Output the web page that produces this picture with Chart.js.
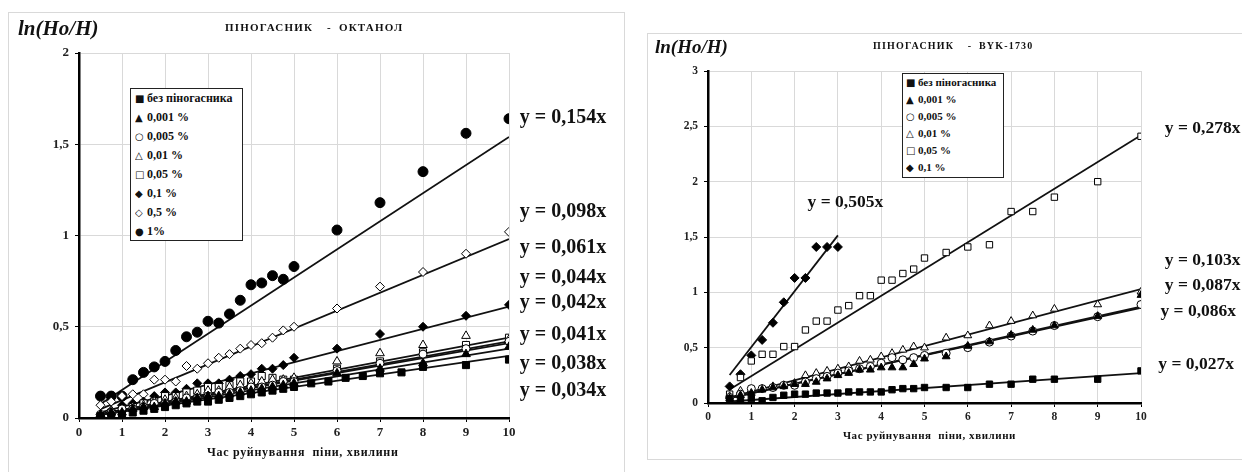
<!DOCTYPE html>
<html>
<head>
<meta charset="utf-8">
<script src="https://cdn.jsdelivr.net/npm/chart.js@4"></script>
<style>
  body { margin: 0; width: 1242px; height: 472px; overflow: hidden; background: #fff; font-family: "Liberation Serif", serif; position: relative; }
  .frame { position: absolute; border: 1px solid #d9d9d9; }
  canvas { position: absolute; }
  .txt { position: absolute; font-weight: bold; color: #111; white-space: nowrap; }
  .ylab { font-style: italic; }
  .legend { position: absolute; border: 1px solid #222; background: #fff; font-weight: bold; color: #111; box-sizing: border-box; }
  .legend div { white-space: nowrap; overflow: hidden; }
  .legend span { display: inline-block; width: 12px; font-family: "DejaVu Sans", sans-serif; font-weight: normal; font-size: 10px; vertical-align: top; }
</style>
</head>
<body>
<div class="frame" style="left:8px; top:12px; width:615px; height:480px;"></div>
<div class="frame" style="left:647px; top:33px; width:620px; height:425px;"></div>
<canvas id="left" width="615" height="460" style="left:8px; top:12px;"></canvas>
<canvas id="right" width="595" height="425" style="left:647px; top:33px;"></canvas>

<div class="txt ylab" style="left:18px; top:16px; font-size:21px;">ln(Ho/H)</div>
<div class="txt" style="left:225px; top:21px; font-size:11px; letter-spacing:1.2px; word-spacing:3px;">ПІНОГАСНИК &nbsp;- ОКТАНОЛ</div>
<div class="txt" style="left:207px; top:445px; font-size:12px; letter-spacing:0.7px;">Час руйнування &nbsp;піни, хвилини</div>
<div class="legend" id="legLeft" style="left:130px; top:88px; width:113px; height:153px; font-size:12px; padding-left:4px; padding-top:0px;"></div>

<div class="txt ylab" style="left:655px; top:36px; font-size:19px;">ln(Ho/H)</div>
<div class="txt" style="left:873px; top:40px; font-size:10px; letter-spacing:1.2px; word-spacing:3px;">ПІНОГАСНИК &nbsp;- BYK-1730</div>
<div class="txt" style="left:843px; top:429px; font-size:11px; letter-spacing:0.55px;">Час руйнування &nbsp;піни, хвилини</div>
<div class="legend" id="legRight" style="left:902px; top:73px; width:102px; height:105px; font-size:11px; padding-left:3px; padding-top:0px;"></div>

<script>
// ---- left chart: піногасник октанол ----
const xLeft = [0.5, 0.75, 1, 1.25, 1.5, 1.75, 2, 2.25, 2.5, 2.75, 3, 3.25, 3.5, 3.75, 4, 4.25, 4.5, 4.75, 5, 6, 7, 8, 9, 10];
const xLeftNone = [0.5, 0.75, 1, 1.25, 1.5, 1.75, 2, 2.25, 2.5, 2.75, 3, 3.25, 3.5, 3.75, 4, 4.25, 4.5, 4.75, 5, 5.4, 5.8, 6.2, 6.6, 7, 7.5, 8, 9, 10];
const leftNone = [0.01, 0.01, 0.02, 0.03, 0.04, 0.05, 0.06, 0.07, 0.08, 0.09, 0.09, 0.10, 0.11, 0.12, 0.13, 0.14, 0.15, 0.16, 0.17, 0.19, 0.20, 0.22, 0.23, 0.245, 0.25, 0.28, 0.29, 0.32];
const left0001 = [0.02, 0.03, 0.03, 0.05, 0.06, 0.06, 0.08, 0.09, 0.09, 0.11, 0.12, 0.12, 0.13, 0.14, 0.15, 0.16, 0.17, 0.18, 0.19, 0.245, 0.27, 0.30, 0.35, 0.39];
const left0005 = [0.02, 0.03, 0.05, 0.05, 0.06, 0.08, 0.08, 0.09, 0.11, 0.11, 0.12, 0.14, 0.14, 0.15, 0.17, 0.17, 0.18, 0.20, 0.20, 0.26, 0.30, 0.35, 0.38, 0.42];
const left001 = [0.02, 0.04, 0.05, 0.06, 0.07, 0.09, 0.10, 0.11, 0.12, 0.13, 0.15, 0.15, 0.17, 0.18, 0.19, 0.20, 0.21, 0.21, 0.22, 0.31, 0.355, 0.40, 0.45, 0.43];
const left005 = [0.01, 0.03, 0.05, 0.06, 0.08, 0.09, 0.12, 0.12, 0.14, 0.15, 0.17, 0.17, 0.18, 0.20, 0.20, 0.23, 0.22, 0.21, 0.21, 0.27, 0.31, 0.36, 0.40, 0.44];
const left01 = [0.02, 0.04, 0.07, 0.08, 0.09, 0.12, 0.14, 0.14, 0.16, 0.19, 0.19, 0.19, 0.21, 0.23, 0.24, 0.27, 0.27, 0.29, 0.33, 0.38, 0.46, 0.50, 0.56, 0.62];
const left05 = [0.07, 0.09, 0.12, 0.13, 0.13, 0.21, 0.21, 0.20, 0.285, 0.27, 0.30, 0.33, 0.35, 0.38, 0.40, 0.41, 0.44, 0.48, 0.50, 0.60, 0.72, 0.80, 0.90, 1.02];
const left1 = [0.12, 0.12, 0.12, 0.21, 0.25, 0.28, 0.31, 0.37, 0.445, 0.47, 0.53, 0.52, 0.57, 0.645, 0.73, 0.74, 0.78, 0.76, 0.83, 1.03, 1.18, 1.35, 1.56, 1.64];
const leftLabels = ["без піногасника", "0,001 %", "0,005 %", "0,01 %", "0,05 %", "0,1 %", "0,5 %", "1%"];
const leftSlopes = [0.034, 0.038, 0.041, 0.044, 0.042, 0.061, 0.098, 0.154];
const leftEquations = ["y = 0,154x", "y = 0,098x", "y = 0,061x", "y = 0,044x", "y = 0,042x", "y = 0,041x", "y = 0,038x", "y = 0,034x"];

// ---- right chart: піногасник BYK-1730 ----
const xRight = [0.5, 0.75, 1, 1.25, 1.5, 1.75, 2, 2.25, 2.5, 2.75, 3, 3.25, 3.5, 3.75, 4, 4.25, 4.5, 4.75, 5, 5.5, 6, 6.5, 7, 7.5, 8, 9, 10];
const xRight01 = [0.5, 0.75, 1, 1.25, 1.5, 1.75, 2, 2.25, 2.5, 2.75, 3];
const rightNone = [0.04, 0.02, 0.04, 0.02, 0.05, 0.07, 0.08, 0.08, 0.09, 0.09, 0.09, 0.10, 0.10, 0.10, 0.10, 0.12, 0.13, 0.13, 0.14, 0.14, 0.14, 0.17, 0.17, 0.215, 0.215, 0.215, 0.29];
const right0001 = [0.04, 0.07, 0.09, 0.12, 0.14, 0.15, 0.17, 0.17, 0.19, 0.22, 0.25, 0.27, 0.30, 0.30, 0.32, 0.32, 0.32, 0.35, 0.40, 0.42, 0.515, 0.555, 0.615, 0.66, 0.70, 0.785, 0.975];
const right0005 = [0.05, 0.08, 0.13, 0.13, 0.14, 0.16, 0.16, 0.19, 0.22, 0.24, 0.27, 0.29, 0.31, 0.33, 0.36, 0.41, 0.39, 0.41, 0.43, 0.45, 0.50, 0.55, 0.605, 0.65, 0.70, 0.78, 0.89];
const right001 = [0.06, 0.11, 0.12, 0.13, 0.15, 0.16, 0.18, 0.25, 0.27, 0.29, 0.31, 0.33, 0.38, 0.39, 0.42, 0.45, 0.48, 0.51, 0.50, 0.59, 0.61, 0.70, 0.74, 0.79, 0.85, 0.89, 1.005];
const right005 = [0.08, 0.23, 0.38, 0.44, 0.44, 0.51, 0.51, 0.66, 0.74, 0.74, 0.84, 0.88, 0.97, 0.97, 1.11, 1.11, 1.17, 1.21, 1.31, 1.36, 1.41, 1.43, 1.73, 1.73, 1.86, 2.0, 2.41];
const right01 = [0.15, 0.26, 0.43, 0.57, 0.725, 0.91, 1.13, 1.13, 1.41, 1.41, 1.41];
const rightLabels = ["без піногасника", "0,001 %", "0,005 %", "0,01 %", "0,05 %", "0,1 %"];
// slopes of the lines as drawn in the picture (the 0,05 % line sits below its label value)
const rightSlopes = [0.027, 0.087, 0.086, 0.103, 0.242, 0.505];
const rightEquations = ["y = 0,505x", "y = 0,278x", "y = 0,103x", "y = 0,087x", "y = 0,086x", "y = 0,027x"];

// marker look for each legend entry (same order as the labels)
const markers = [
  { style: "rect", fill: true, glyph: "■" },
  { style: "triangle", fill: true, glyph: "▲" },
  { style: "circle", fill: false, glyph: "○" },
  { style: "triangle", fill: false, glyph: "△" },
  { style: "rect", fill: false, glyph: "□" },
  { style: "rectRot", fill: true, glyph: "◆" },
  { style: "rectRot", fill: false, glyph: "◇" },
  { style: "circle", fill: true, glyph: "●" },
];

function points(xs, ys) {
  return xs.map((x, i) => ({ x: x, y: ys[i] }));
}

function scatterSet(label, xs, ys, m, radius) {
  return {
    label: label,
    data: points(xs, ys),
    showLine: false,
    pointStyle: m.style,
    pointRadius: radius,
    pointBackgroundColor: m.fill ? "#000" : "#fff",
    pointBorderColor: "#000",
    pointBorderWidth: 1,
  };
}

function trendSet(k, x0, x1, width) {
  return {
    label: "trend",
    data: [{ x: x0, y: k * x0 }, { x: x1, y: k * x1 }],
    showLine: true,
    borderColor: "#111",
    borderWidth: width,
    pointRadius: 0,
  };
}

function fillLegend(id, labels, rowH) {
  const box = document.getElementById(id);
  labels.forEach((l, i) => {
    const row = document.createElement("div");
    row.style.height = rowH + "px";
    row.style.lineHeight = rowH + "px";
    row.innerHTML = "<span>" + markers[i].glyph + "</span>" + l;
    box.appendChild(row);
  });
}
fillLegend("legLeft", leftLabels, 19);
fillLegend("legRight", rightLabels, 17);

// equation labels drawn next to the plot
const equationPlugin = {
  id: "equations",
  afterDraw(chart, args, opts) {
    const ctx = chart.ctx;
    const xs = chart.scales.x, ys = chart.scales.y;
    ctx.save();
    ctx.fillStyle = "#111";
    ctx.font = "bold " + opts.size + "px 'Liberation Serif'";
    ctx.textBaseline = "middle";
    opts.items.forEach((it, i) => {
      ctx.fillText(opts.texts[i], xs.getPixelForValue(it[0]), ys.getPixelForValue(it[1]));
    });
    ctx.restore();
  }
};

const commaTick = (v) => String(v).replace(".", ",");

function baseOptions(ymax, yWidth, pad, tickSize) {
  return {
    responsive: false,
    animation: false,
    devicePixelRatio: 1,
    layout: { padding: pad },
    plugins: { legend: { display: false }, tooltip: { enabled: false } },
    scales: {
      x: {
        type: "linear", min: 0, max: 10,
        ticks: { stepSize: 1, color: "#222", font: { family: "Liberation Serif", weight: "bold", size: tickSize }, padding: 3, callback: commaTick },
        grid: { color: "#d9d9d9", tickColor: "#000", tickLength: 4 },
        border: { color: "#000", width: 2.5 },
        afterFit: (a) => { a.height = 30; },
      },
      y: {
        min: 0, max: ymax,
        ticks: { stepSize: 0.5, color: "#222", font: { family: "Liberation Serif", weight: "bold", size: tickSize }, padding: 6, callback: commaTick },
        grid: { color: "#d9d9d9", tickColor: "#000", tickLength: 4 },
        border: { color: "#000", width: 2.5 },
        afterFit: (a) => { a.width = yWidth; },
      },
    },
  };
}

// left chart
const leftSeries = [
  [xLeftNone, leftNone], [xLeft, left0001], [xLeft, left0005], [xLeft, left001],
  [xLeft, left005], [xLeft, left01], [xLeft, left05], [xLeft, left1],
];
const leftRadius = [5, 5, 4, 5, 5, 4.5, 4.5, 5];
const leftSets = [];
leftSeries.forEach((s, i) => leftSets.push(scatterSet(leftLabels[i], s[0], s[1], markers[i], leftRadius[i])));
leftSlopes.forEach((k) => leftSets.push(trendSet(k, 0.5, 10, 1.8)));

const leftOpts = baseOptions(2, 71, { left: 0, top: 41, right: 114, bottom: 24 }, 13);
leftOpts.plugins.equations = {
  size: 20,
  texts: leftEquations,
  items: [[10.25, 1.644], [10.25, 1.129], [10.25, 0.93], [10.25, 0.767], [10.25, 0.63], [10.25, 0.455], [10.25, 0.296], [10.25, 0.148]],
};
new Chart(document.getElementById("left"), {
  type: "scatter",
  data: { datasets: leftSets },
  options: leftOpts,
  plugins: [equationPlugin],
});

// right chart
const rightSeries = [
  [xRight, rightNone], [xRight, right0001], [xRight, right0005],
  [xRight, right001], [xRight, right005], [xRight01, right01],
];
const rightRadius = [4.5, 4.5, 4, 4.5, 4.5, 4.5];
const rightSets = [];
rightSeries.forEach((s, i) => rightSets.push(scatterSet(rightLabels[i], s[0], s[1], markers[i], rightRadius[i])));
rightSlopes.forEach((k, i) => rightSets.push(trendSet(k, 0.5, i === 5 ? 3 : 10, 1.8)));

const rightOpts = baseOptions(3, 61, { left: 0, top: 38, right: 101, bottom: 25 }, 11.5);
rightOpts.plugins.equations = {
  size: 17.5,
  texts: rightEquations,
  items: [[2.3, 1.81], [10.55, 2.48], [10.55, 1.29], [10.55, 1.066], [10.45, 0.83], [10.4, 0.35]],
};
new Chart(document.getElementById("right"), {
  type: "scatter",
  data: { datasets: rightSets },
  options: rightOpts,
  plugins: [equationPlugin],
});
</script>
</body>
</html>
